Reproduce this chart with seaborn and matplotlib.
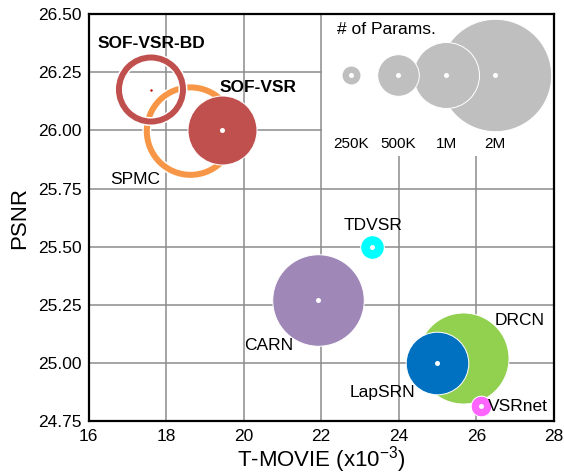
import numpy as np
import pandas as pd
import matplotlib
matplotlib.use("Agg")
import matplotlib.pyplot as plt
from matplotlib.patches import Rectangle
import seaborn as sns

# du lieu doc tu hinh
models = ['SOF-VSR', 'TDVSR', 'CARN', 'DRCN', 'LapSRN', 'VSRnet']
tmovie = [19.44, 23.31, 21.93, 25.65, 24.98, 26.12]
psnr = [26.00, 25.50, 25.27, 25.02, 25.00, 24.816]
params_k = [1065, 301, 1550, 1540, 930, 268]
colors = ['#C0504D', '#00FFFF', '#9F88B7', '#92D050', '#0070C0', '#FF66FF']

# mo hinh ve dang vong tron rong
ring_models = ['SPMC', 'SOF-VSR-BD']
ring_tmovie = [18.63, 17.61]
ring_psnr = [25.997, 26.176]
ring_params_k = [1570, 1065]
ring_colors = ['#F79646', '#C0504D']

# chu giai kich thuoc
legend_params_k = [250, 500, 1000, 2000]
legend_labels = ['250K', '500K', '1M', '2M']
legend_radius_px = [10, 21.3, 33.5, 56.7]

x_ticks = [16, 18, 20, 22, 24, 26, 28]
y_ticks = [24.75, 25.00, 25.25, 25.50, 25.75, 26.00, 26.25, 26.50]

DPI = 100


def radius_px(p):
    return np.interp(p, legend_params_k, legend_radius_px)


def area(r_px):
    # dien tich marker (points^2) tu ban kinh pixel
    return (2 * r_px * 72 / DPI) ** 2


sns.set_theme(style='whitegrid')
plt.rcParams['font.family'] = ['Liberation Sans', 'DejaVu Sans']
plt.rcParams['text.color'] = 'black'
plt.rcParams['mathtext.fontset'] = 'custom'
plt.rcParams['mathtext.rm'] = 'Liberation Sans'
plt.rcParams['mathtext.it'] = 'Liberation Sans:italic'
plt.rcParams['mathtext.bf'] = 'Liberation Sans:bold'

fig, ax = plt.subplots(figsize=(5.64, 4.74), dpi=DPI)
fig.subplots_adjust(left=0.157, right=0.982, bottom=0.112, top=0.970)

df = pd.DataFrame({'model': models, 'tmovie': tmovie, 'psnr': psnr,
                   'params': params_k, 'color': colors})

# o trang cho chu giai
ax.add_patch(Rectangle((22.03, 25.89), 6, 0.7, facecolor='white',
                       edgecolor='none', zorder=1.2))

# vong tron rong
ring_lw_px = 6
for m, xv, yv, p, c in zip(ring_models, ring_tmovie, ring_psnr,
                           ring_params_k, ring_colors):
    r = radius_px(p) - ring_lw_px / 2
    sns.scatterplot(x=[xv], y=[yv], s=area(r), facecolor='none',
                    edgecolor='white', linewidth=(ring_lw_px + 3) * 0.72,
                    color='white', ax=ax, zorder=2)
    sns.scatterplot(x=[xv], y=[yv], s=area(r), facecolor='none',
                    edgecolor=c, linewidth=ring_lw_px * 0.72,
                    color=c, ax=ax, zorder=2)
sns.scatterplot(x=[ring_tmovie[1]], y=[ring_psnr[1]], s=3, color='#C00000',
                linewidth=0, ax=ax, zorder=2.5)

# bong bong dac, moi cai kem cham trang o tam
for i, row in df.iterrows():
    z = 3 + i * 0.1
    sns.scatterplot(x=[row['tmovie']], y=[row['psnr']],
                    s=area(radius_px(row['params']) - 0.5), color=row['color'],
                    edgecolor='white', linewidth=0.72, ax=ax, zorder=z)
    sns.scatterplot(x=[row['tmovie']], y=[row['psnr']], s=13, color='white',
                    linewidth=0, ax=ax, zorder=z + 0.05)

# chu giai kich thuoc tham so
leg_x = [22.77, 23.98, 25.22, 26.47]
leg_y = 26.24
for i in range(3, -1, -1):
    sns.scatterplot(x=[leg_x[i]], y=[leg_y],
                    s=area(legend_radius_px[i] - 0.5), color='#BFBFBF',
                    edgecolor='white', linewidth=0.72, ax=ax, zorder=3)
sns.scatterplot(x=leg_x, y=[leg_y] * 4, s=13, color='white', linewidth=0,
                ax=ax, zorder=4)
for xv, lab in zip(leg_x, legend_labels):
    ax.text(xv, 25.94, lab, ha='center', va='center', fontsize=11, zorder=5)
ax.text(23.68, 26.434, '# of Params.', ha='center', va='center',
        fontsize=12.5, zorder=5)

# nhan mo hinh
ax.text(17.62, 26.375, 'SOF-VSR-BD', ha='center', va='center',
        fontsize=12.5, fontweight='bold', zorder=5)
ax.text(20.38, 26.186, 'SOF-VSR', ha='center', va='center',
        fontsize=12.5, fontweight='bold', zorder=5)
ax.text(17.21, 25.79, 'SPMC', ha='center', va='center', fontsize=12.5,
        zorder=5)
ax.text(23.35, 25.59, 'TDVSR', ha='center', va='center', fontsize=12.5,
        zorder=5)
ax.text(20.64, 25.074, 'CARN', ha='center', va='center', fontsize=12.5,
        zorder=5)
ax.text(27.12, 25.18, 'DRCN', ha='center', va='center', fontsize=12.5,
        zorder=5)
ax.text(23.59, 24.872, 'LapSRN', ha='center', va='center', fontsize=12.5,
        zorder=5)
ax.text(27.07, 24.812, 'VSRnet', ha='center', va='center', fontsize=12.5,
        zorder=5)

ax.set_xlim(16, 28)
ax.set_ylim(24.75, 26.5)
ax.set_xticks(x_ticks)
ax.set_yticks(y_ticks)
ax.set_yticklabels([f'{v:.2f}' for v in y_ticks])
ax.tick_params(axis='both', length=0, labelsize=12.5, colors='black')
ax.tick_params(axis='x', pad=6)
ax.tick_params(axis='y', pad=5)
ax.grid(True, color='#8C8C8C', linewidth=1.1)
ax.set_axisbelow(True)
for sp in ax.spines.values():
    sp.set_color('black')
    sp.set_linewidth(1.6)

ax.set_xlabel('T-MOVIE (x10$^{-3}$)', fontsize=16, labelpad=0, color='black')
ax.set_ylabel('PSNR', fontsize=16, labelpad=6, color='black')

plt.savefig('out.png', dpi=DPI)
